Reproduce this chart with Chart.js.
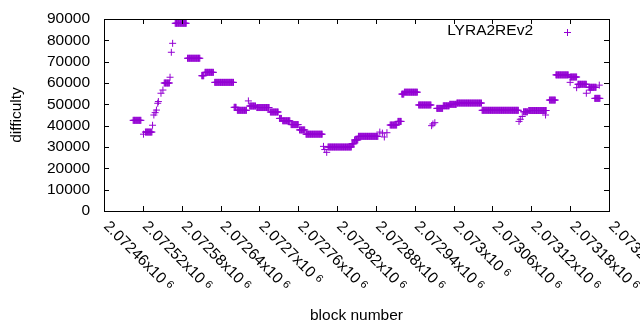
<!DOCTYPE html>
<html>
<head>
<meta charset="UTF-8">
<title>LYRA2REv2 difficulty</title>
<script src="https://cdn.jsdelivr.net/npm/chart.js"></script>
<style>
body{margin:0; background:#fff;}
#box{width:640px; height:330px;}
</style>
</head>
<body>
<div id="box"><canvas id="myChart" width="640" height="330"></canvas></div>
<script>
// runs of consecutive blocks sharing one difficulty
var blockFrom = [2072505,2072521,2072524,2072535,2072537,2072539,2072541,2072543,2072544,2072548,
	2072551,2072553,2072562,2072564,2072566,2072570,2072589,2072611,2072616,2072631,
	2072661,2072666,2072683,2072685,2072696,2072717,2072731,2072736,2072749,2072762,
	2072772,2072799,2072801,2072804,2072806,2072843,2072847,2072853,2072886,2072890,
	2072893,2072897,2072902,2072914,2072920,2072924,2072946,2072966,2072968,2072971,
	2072974,2072984,2072994,2073005,2073044,2073101,2073103,2073106,2073108,2073116,
	2073142,2073148,2073158,2073180,2073180,2073190,2073192,2073205,2073211,2073209,
	2073225,2073218];
var blockTo = [2072517,2072521,2072534,2072535,2072537,2072539,2072541,2072543,2072544,2072548,
	2072551,2072561,2072562,2072564,2072566,2072587,2072608,2072614,2072629,2072660,
	2072664,2072680,2072683,2072694,2072715,2072729,2072734,2072747,2072760,2072770,
	2072797,2072799,2072801,2072804,2072842,2072846,2072852,2072883,2072886,2072890,
	2072893,2072897,2072912,2072919,2072923,2072944,2072965,2072966,2072968,2072971,
	2072983,2072993,2073004,2073043,2073100,2073101,2073103,2073106,2073114,2073143,
	2073142,2073157,2073177,2073190,2073180,2073190,2073205,2073205,2073211,2073220,
	2073225,2073226];
var difficulty = [42500,36000,37000,40200,45000,46100,47300,50500,51300,55200,
	56700,60000,62700,74400,78600,88000,71600,63400,65000,60300,
	48600,47200,51600,49200,48500,46400,43400,42300,40500,38000,
	36000,30300,28800,27500,30000,31500,33300,35000,37000,36500,
	34700,36700,40300,42000,54800,55700,49700,40000,40800,41400,
	48100,49300,50000,50600,47200,42000,43000,44300,46500,47100,
	45000,52000,63800,62800,60300,57800,59400,55200,56700,58000,
	59000,52800];

var xTicks = [2072460,2072520,2072580,2072640,2072700,2072760,2072820,2072880,
	2072940,2073000,2073060,2073120,2073180,2073240];
var yTicks = [0,10000,20000,30000,40000,50000,60000,70000,80000,90000];

var points = [];
for (var i = 0; i < blockFrom.length; i++) {
	for (var b = blockFrom[i]; b <= blockTo[i]; b++) {
		points.push({x: b, y: difficulty[i]});
	}
}

var FONT = '"Liberation Sans", Arial, sans-serif';
var PURPLE = '#9400d3';
Chart.defaults.font.family = FONT;
Chart.defaults.font.size = 15.5;
Chart.defaults.color = '#000';

function crossAt(ctx, x, y, r) {
	ctx.beginPath();
	ctx.moveTo(x - r, y); ctx.lineTo(x + r, y);
	ctx.moveTo(x, y - r); ctx.lineTo(x, y + r);
	ctx.stroke();
}

// gnuplot style frame: box, inward ticks on all sides, rotated x labels, key
var frame = {
	id: 'frame',
	afterDraw: function(chart) {
		var ctx = chart.ctx, a = chart.chartArea;
		var xs = chart.scales.x, ys = chart.scales.y;
		ctx.save();
		ctx.strokeStyle = '#000';
		ctx.lineWidth = 1;
		ctx.strokeRect(a.left + 0.5, a.top + 0.5, a.right - a.left, a.bottom - a.top);
		ctx.beginPath();
		xTicks.forEach(function(v) {
			var px = Math.round(xs.getPixelForValue(v)) + 0.5;
			ctx.moveTo(px, a.bottom); ctx.lineTo(px, a.bottom - 5);
			ctx.moveTo(px, a.top); ctx.lineTo(px, a.top + 5);
		});
		yTicks.forEach(function(v) {
			var py = Math.round(ys.getPixelForValue(v)) + 0.5;
			ctx.moveTo(a.left, py); ctx.lineTo(a.left + 5, py);
			ctx.moveTo(a.right, py); ctx.lineTo(a.right - 5, py);
		});
		ctx.stroke();

		ctx.fillStyle = '#000';
		xTicks.forEach(function(v) {
			var px = xs.getPixelForValue(v);
			var s = String(parseFloat((v / 1e6).toPrecision(6))) + 'x10';
			ctx.save();
			ctx.translate(px + 2, a.bottom + 13);
			ctx.rotate(Math.PI / 4);
			ctx.font = '15.5px ' + FONT;
			ctx.textAlign = 'left';
			ctx.textBaseline = 'middle';
			ctx.fillText(s, 0, 0);
			var w = ctx.measureText(s).width;
			ctx.font = '11px ' + FONT;
			ctx.fillText('6', w + 4, -2);
			ctx.restore();
		});

		// key
		ctx.font = '15.5px ' + FONT;
		ctx.textAlign = 'right';
		ctx.textBaseline = 'middle';
		ctx.fillText(chart.data.datasets[0].label, 533, 31);
		ctx.strokeStyle = PURPLE;
		crossAt(ctx, 567.5, 32.5, 3.5);
		ctx.restore();
	}
};

new Chart(document.getElementById('myChart'), {
	type: 'scatter',
	data: {
		datasets: [{
			label: 'LYRA2REv2',
			data: points,
			pointStyle: 'cross',
			pointRadius: 3.5,
			pointHoverRadius: 3.5,
			borderWidth: 1,
			borderColor: PURPLE,
			backgroundColor: PURPLE
		}]
	},
	options: {
		responsive: false,
		animation: false,
		events: [],
		layout: {padding: {left: 0, right: 31, top: 19, bottom: 0}},
		plugins: {legend: {display: false}, tooltip: {enabled: false}},
		scales: {
			x: {
				type: 'linear',
				min: 2072460,
				max: 2073240,
				afterBuildTicks: function(s) { s.ticks = xTicks.map(function(v) { return {value: v}; }); },
				afterFit: function(s) { s.height = 119; },
				grid: {display: false},
				border: {display: false},
				ticks: {display: false},
				title: {display: true, text: 'block number', padding: {top: 5, bottom: 5}}
			},
			y: {
				min: 0,
				max: 90000,
				afterBuildTicks: function(s) { s.ticks = yTicks.map(function(v) { return {value: v}; }); },
				afterFit: function(s) { s.width = 104; s.paddingTop = 0; s.paddingBottom = 0; },
				grid: {display: false, drawTicks: false},
				border: {display: false},
				ticks: {padding: 14, autoSkip: false, callback: function(v) { return String(v); }},
				title: {display: true, text: 'difficulty', padding: {top: 7, bottom: 7}}
			}
		}
	},
	plugins: [frame]
});
</script>
</body>
</html>
